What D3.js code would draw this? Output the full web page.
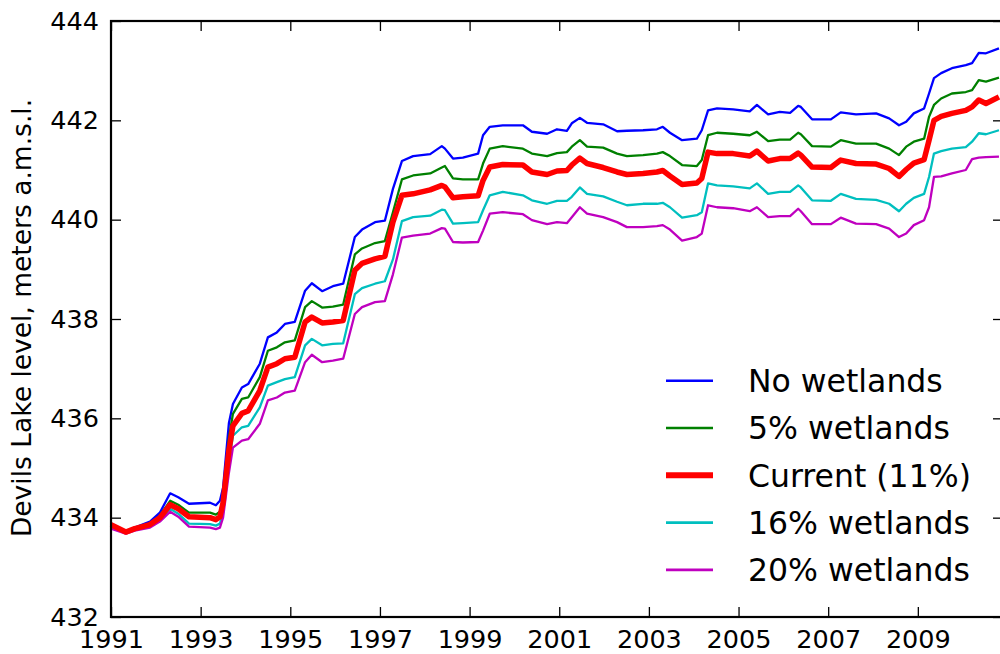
<!DOCTYPE html>
<html>
<head>
<meta charset="utf-8">
<script src="https://cdn.jsdelivr.net/npm/d3@7"></script>
<style>
  html, body { margin: 0; padding: 0; background: #fff; }
  svg { display: block; }
  text { font-family: "DejaVu Sans", sans-serif; fill: #000; }
</style>
</head>
<body>
<svg id="chart" width="1000" height="654"></svg>
<script>
const years = [1991.00,1991.33,1991.53,1991.87,1992.09,1992.32,1992.50,1992.74,1993.21,1993.34,1993.43,1993.50,1993.63,1993.72,1993.92,1994.06,1994.32,1994.50,1994.70,1994.88,1995.10,1995.33,1995.48,1995.71,1995.95,1996.18,1996.44,1996.60,1996.89,1997.11,1997.29,1997.49,1997.74,1998.12,1998.38,1998.45,1998.63,1998.85,1999.19,1999.30,1999.45,1999.74,2000.19,2000.39,2000.73,2000.95,2001.17,2001.28,2001.46,2001.62,2001.98,2002.29,2002.51,2002.87,2003.18,2003.31,2003.47,2003.74,2004.07,2004.18,2004.32,2004.52,2004.88,2005.25,2005.41,2005.66,2005.92,2006.15,2006.33,2006.39,2006.64,2007.06,2007.28,2007.62,2008.07,2008.36,2008.58,2008.74,2008.91,2009.14,2009.25,2009.36,2009.52,2009.76,2010.07,2010.21,2010.36,2010.52,2010.81];

const noWetlands = [433.88,433.72,433.80,433.92,434.10,434.49,434.41,434.28,434.30,434.25,434.34,434.60,435.90,436.29,436.62,436.69,437.10,437.63,437.73,437.90,437.94,438.57,438.72,438.56,438.66,438.71,439.65,439.80,439.95,439.98,440.62,441.18,441.28,441.32,441.48,441.43,441.23,441.25,441.33,441.70,441.87,441.90,441.90,441.77,441.73,441.82,441.79,441.94,442.05,441.95,441.92,441.78,441.79,441.80,441.82,441.87,441.75,441.60,441.63,441.80,442.20,442.24,442.22,442.18,442.31,442.12,442.17,442.15,442.29,442.27,442.02,442.02,442.16,442.12,442.14,442.04,441.90,441.97,442.14,442.24,442.54,442.85,442.95,443.05,443.11,443.15,443.36,443.35,443.45];

const wetlands5 = [433.87,433.72,433.79,433.88,434.04,434.34,434.26,434.10,434.10,434.06,434.12,434.40,435.60,436.09,436.39,436.42,436.83,437.36,437.43,437.53,437.57,438.24,438.36,438.23,438.25,438.29,439.30,439.42,439.53,439.57,440.15,440.81,440.89,440.93,441.05,441.08,440.83,440.81,440.81,441.13,441.43,441.48,441.43,441.33,441.28,441.34,441.36,441.47,441.60,441.47,441.45,441.33,441.28,441.30,441.33,441.36,441.28,441.10,441.08,441.20,441.70,441.75,441.73,441.70,441.77,441.58,441.61,441.61,441.75,441.72,441.48,441.47,441.60,441.53,441.53,441.43,441.30,441.47,441.57,441.63,442.07,442.31,442.44,442.54,442.57,442.61,442.81,442.78,442.86];

const current11 = [433.86,433.71,433.78,433.86,434.00,434.26,434.18,434.02,434.00,433.96,434.02,434.30,435.35,435.85,436.10,436.15,436.56,437.03,437.10,437.20,437.23,437.94,438.04,437.92,437.94,437.97,438.98,439.12,439.21,439.26,439.95,440.49,440.52,440.60,440.69,440.66,440.44,440.46,440.48,440.79,441.06,441.11,441.10,440.96,440.91,440.98,440.99,441.10,441.24,441.13,441.05,440.96,440.91,440.93,440.96,440.99,440.88,440.71,440.74,440.83,441.36,441.33,441.33,441.28,441.38,441.18,441.23,441.23,441.34,441.30,441.06,441.05,441.20,441.13,441.12,441.03,440.87,441.01,441.14,441.21,441.60,442.00,442.08,442.14,442.20,442.27,442.41,442.34,442.47];

const wetlands16 = [433.82,433.70,433.76,433.83,433.95,434.18,434.08,433.88,433.87,433.84,433.88,434.10,435.10,435.65,435.82,435.85,436.22,436.66,436.73,436.79,436.83,437.47,437.60,437.47,437.50,437.51,438.50,438.62,438.71,438.76,439.20,439.97,440.05,440.08,440.20,440.19,439.92,439.93,439.95,440.19,440.49,440.56,440.49,440.39,440.32,440.38,440.38,440.46,440.65,440.52,440.47,440.36,440.29,440.32,440.32,440.34,440.25,440.04,440.09,440.15,440.73,440.69,440.67,440.63,440.73,440.52,440.56,440.56,440.69,440.65,440.39,440.38,440.52,440.42,440.40,440.32,440.17,440.32,440.44,440.52,440.86,441.33,441.38,441.43,441.46,441.57,441.74,441.72,441.80];

const wetlands20 = [433.78,433.68,433.74,433.80,433.92,434.12,434.02,433.82,433.80,433.77,433.80,434.00,434.90,435.41,435.55,435.58,435.89,436.36,436.42,436.52,436.56,437.13,437.28,437.13,437.16,437.20,438.10,438.24,438.34,438.36,438.90,439.64,439.68,439.72,439.83,439.82,439.55,439.54,439.55,439.78,440.12,440.15,440.11,439.99,439.91,439.95,439.93,440.05,440.25,440.12,440.05,439.95,439.85,439.85,439.87,439.89,439.80,439.58,439.65,439.72,440.29,440.25,440.23,440.17,440.25,440.05,440.07,440.07,440.22,440.17,439.91,439.91,440.04,439.92,439.91,439.82,439.65,439.72,439.89,439.99,440.25,440.86,440.87,440.93,441.00,441.22,441.25,441.26,441.27];

const seriesNames = ["No wetlands", "5% wetlands", "Current (11%)", "16% wetlands", "20% wetlands"];
const seriesColors = ["#0000ff", "#008000", "#ff0000", "#00bfbf", "#bf00bf"];
const seriesWidths = [2.3, 2.3, 5.5, 2.3, 2.3];
const seriesValues = [noWetlands, wetlands5, current11, wetlands16, wetlands20];

const xTicks = [1991, 1993, 1995, 1997, 1999, 2001, 2003, 2005, 2007, 2009];
const yTicks = [432, 434, 436, 438, 440, 442, 444];
const yLabel = "Devils Lake level, meters a.m.s.l.";

const svg = d3.select("#chart");
const pLeft = 111, pRight = 1003, pTop = 21, pBottom = 617;

const x = d3.scaleLinear().domain([1991, 2010.9]).range([pLeft, pRight]);
const y = d3.scaleLinear().domain([432, 444]).range([pBottom, pTop]);

// lines (red drawn last, on top)
const drawOrder = [0, 1, 3, 4, 2];
const line = d3.line().x(d => x(d[0])).y(d => y(d[1]));
const plot = svg.append("g");
drawOrder.forEach(i => {
  const pts = years.map((yr, k) => [yr, seriesValues[i][k]]);
  plot.append("path")
    .datum(pts)
    .attr("d", line)
    .attr("fill", "none")
    .attr("stroke", seriesColors[i])
    .attr("stroke-width", seriesWidths[i])
    .attr("stroke-linejoin", "round")
    .attr("stroke-linecap", "butt");
});

// axes
function styleAxis(g) {
  g.select(".domain").remove();
  g.selectAll(".tick line").attr("stroke", "#000").attr("stroke-width", 1.3);
  g.selectAll(".tick text").style("font-size", "25.5px").style("font-family", "DejaVu Sans");
}
svg.append("g").attr("transform", `translate(0,${pBottom})`)
  .call(d3.axisBottom(x).tickValues(xTicks).tickFormat(d3.format("d")).tickSizeInner(-10).tickSizeOuter(0).tickPadding(13))
  .call(styleAxis);
svg.append("g").attr("transform", `translate(0,${pTop})`)
  .call(d3.axisTop(x).tickValues(xTicks).tickFormat("").tickSizeInner(-10).tickSizeOuter(0))
  .call(styleAxis);
svg.append("g").attr("transform", `translate(${pLeft},0)`)
  .call(d3.axisLeft(y).tickValues(yTicks).tickFormat(d3.format("d")).tickSizeInner(-10).tickSizeOuter(0).tickPadding(12))
  .call(styleAxis);
svg.append("g").attr("transform", `translate(${pRight},0)`)
  .call(d3.axisRight(y).tickValues(yTicks).tickFormat("").tickSizeInner(-10).tickSizeOuter(0))
  .call(styleAxis);

// frame
svg.append("rect")
  .attr("x", pLeft).attr("y", pTop)
  .attr("width", pRight - pLeft).attr("height", pBottom - pTop)
  .attr("fill", "none").attr("stroke", "#000").attr("stroke-width", 2.2);

// y label
svg.append("text")
  .attr("transform", `translate(31,318) rotate(-90)`)
  .attr("text-anchor", "middle")
  .style("font-size", "26.5px")
  .text(yLabel);

// legend
const legend = svg.append("g");
seriesNames.forEach((name, i) => {
  const ly = 380.7 + i * 47.3;
  legend.append("line")
    .attr("x1", 666).attr("x2", 713)
    .attr("y1", ly).attr("y2", ly)
    .attr("stroke", seriesColors[i])
    .attr("stroke-width", i === 2 ? 6 : 2.6);
  legend.append("text")
    .attr("x", 748).attr("y", ly)
    .attr("dy", "0.36em")
    .style("font-size", "31.5px")
    .text(name);
});
</script>
</body>
</html>
